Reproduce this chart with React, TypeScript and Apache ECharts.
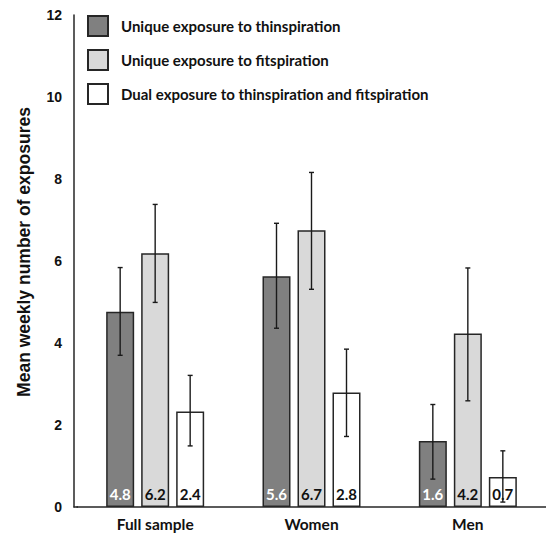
import React, { useEffect, useRef } from "react";
import * as echarts from "echarts";

const CATEGORIES = ["Full sample", "Women", "Men"];
const SERIES_NAMES = [
  "Unique exposure to thinspiration",
  "Unique exposure to fitspiration",
  "Dual exposure to thinspiration and fitspiration",
];
const THIN_VALUES = [4.76, 5.63, 1.61];
const FIT_VALUES = [6.19, 6.75, 4.23];
const DUAL_VALUES = [2.33, 2.79, 0.73];
const THIN_LABELS = ["4.8", "5.6", "1.6"];
const FIT_LABELS = ["6.2", "6.7", "4.2"];
const DUAL_LABELS = ["2.4", "2.8", "0.7"];
const THIN_LOW = [3.7, 4.36, 0.68];
const THIN_HIGH = [5.84, 6.92, 2.5];
const FIT_LOW = [4.99, 5.31, 2.59];
const FIT_HIGH = [7.38, 8.16, 5.83];
const DUAL_LOW = [1.49, 1.72, 0.12];
const DUAL_HIGH = [3.21, 3.85, 1.37];
const Y_TICKS = [0, 2, 4, 6, 8, 10, 12];

const COLORS = ["#808080", "#d9d9d9", "#ffffff"];
const LABEL_COLORS = ["#ffffff", "#111111", "#111111"];
const BAR_WIDTH = 28;
const BAR_GAP_PX = 7;

export default function App() {
  const ref = useRef<HTMLDivElement>(null);
  useEffect(() => {
    if (!ref.current) return;
    const chart = echarts.init(ref.current, null, { renderer: "svg" });
    const values = [THIN_VALUES, FIT_VALUES, DUAL_VALUES];
    const labels = [THIN_LABELS, FIT_LABELS, DUAL_LABELS];
    const lows = [THIN_LOW, FIT_LOW, DUAL_LOW];
    const highs = [THIN_HIGH, FIT_HIGH, DUAL_HIGH];
    const offsets = [-(BAR_WIDTH + BAR_GAP_PX), 0, BAR_WIDTH + BAR_GAP_PX];
    const axisColor = "#262626";

    const barSeries = values.map((vals, si) => ({
      name: SERIES_NAMES[si],
      type: "bar",
      data: vals,
      barWidth: BAR_WIDTH,
      barGap: (BAR_GAP_PX / BAR_WIDTH) * 100 + "%",
      itemStyle: { color: COLORS[si], borderColor: axisColor, borderWidth: 1.5 },
      label: {
        show: true,
        position: "insideBottom",
        distance: 6,
        formatter: (p: any) => labels[si][p.dataIndex],
        color: LABEL_COLORS[si],
        fontFamily: "Lato",
        fontWeight: "bold",
        fontSize: 15,
      },
      z: 2,
    }));

    const errSeries = lows.map((lo, si) => ({
      type: "custom",
      name: "err" + si,
      data: lo.map((l, i) => [i, l, highs[si][i]]),
      encode: { x: 0, y: [1, 2] },
      z: 5,
      silent: true,
      renderItem: (params: any, api: any) => {
        const x = api.value(0);
        const top = api.coord([x, api.value(2)]);
        const bot = api.coord([x, api.value(1)]);
        const cx = top[0] + offsets[si];
        const cap = 2.5;
        const style = { stroke: "#1a1a1a", lineWidth: 1.4 };
        return {
          type: "group",
          children: [
            { type: "line", shape: { x1: cx, y1: top[1], x2: cx, y2: bot[1] }, style },
            { type: "line", shape: { x1: cx - cap, y1: top[1], x2: cx + cap, y2: top[1] }, style },
            { type: "line", shape: { x1: cx - cap, y1: bot[1], x2: cx + cap, y2: bot[1] }, style },
          ],
        };
      },
    }));

    chart.setOption({
      animation: false,
      backgroundColor: "#ffffff",
      grid: { left: 77, top: 15, width: 480, bottom: 29, containLabel: false },
      legend: {
        data: SERIES_NAMES,
        orient: "vertical",
        left: 87,
        top: 15,
        padding: 0,
        itemWidth: 20,
        itemHeight: 20,
        itemGap: 12,
        icon: "rect",
        selectedMode: false,
        textStyle: {
          fontFamily: "Lato",
          fontWeight: "bold",
          fontSize: 15,
          color: "#111",
          padding: [0, 0, 0, 8],
        },
      },
      xAxis: {
        type: "category",
        data: CATEGORIES,
        axisTick: { show: false },
        axisLine: { lineStyle: { color: axisColor, width: 1.5 } },
        axisLabel: {
          fontFamily: "Lato",
          fontWeight: "bold",
          fontSize: 15.5,
          color: "#111",
          margin: 9,
        },
      },
      yAxis: {
        type: "value",
        min: Y_TICKS[0],
        max: Y_TICKS[Y_TICKS.length - 1],
        interval: 2,
        offset: 3,
        splitLine: { show: false },
        axisTick: { show: false },
        axisLine: { show: true, lineStyle: { color: axisColor, width: 1.5 } },
        axisLabel: {
          fontFamily: "Liberation Sans, Arial",
          fontWeight: "bold",
          fontSize: 14,
          color: "#111",
          margin: 12,
        },
      },
      graphic: [
        {
          type: "line",
          shape: { x1: 73.5, y1: 507, x2: 78, y2: 507 },
          style: { stroke: axisColor, lineWidth: 1.5 },
          z: 10,
        },
        {
          type: "text",
          x: 24,
          y: 252,
          rotation: Math.PI / 2,
          style: {
            text: "Mean weekly number of exposures",
            fontFamily: "Liberation Sans, Arial",
            fontWeight: "bold",
            fontSize: 17.5,
            fill: "#111",
            textAlign: "center",
            textVerticalAlign: "middle",
          },
        },
      ],
      series: [...barSeries, ...errSeries],
    });
    return () => chart.dispose();
  }, []);
  return (
    <div
      ref={ref}
      style={{ position: "fixed", left: 0, top: 0, width: 546, height: 536 }}
    />
  );
}
